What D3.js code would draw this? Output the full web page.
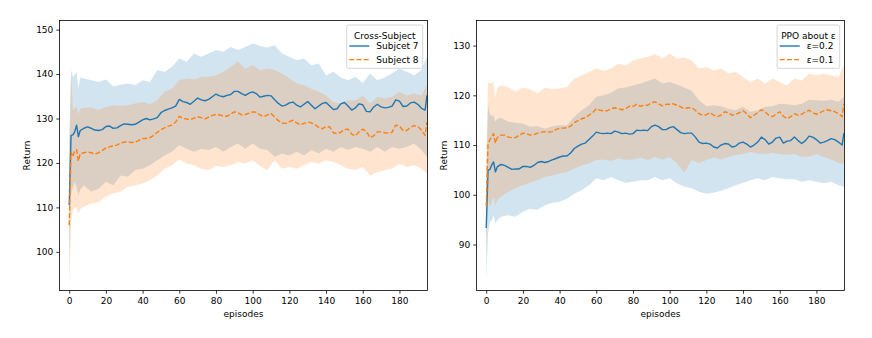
<!DOCTYPE html>
<html>
<head>
<meta charset="utf-8">
<script src="https://cdn.jsdelivr.net/npm/d3@7"></script>
<style>
  body { margin: 0; background: #fff; }
  svg text { font-family: "DejaVu Sans", sans-serif; }
</style>
</head>
<body>
<svg id="chart" width="872" height="338"></svg>
<script>
// episodes: lines are read every 2 episodes, bands every 4
var lineEp = [0, 1, 2, 3, 4, 5, 6].concat(d3.range(8, 195, 2)).concat([195]);
var bandEp = [0, 1, 2, 3, 4, 5, 6].concat(d3.range(8, 193, 4)).concat([195]);
var xTicks = [0, 20, 40, 60, 80, 100, 120, 140, 160, 180];

// ---- left panel: Cross-Subject
var subj7Mean = [110.5, 126.2, 126.3, 127, 128.5, 125.9, 127.3,
  127.8, 128.1, 127.8, 127.4, 127.3, 127.5, 128.2, 128.3, 127.8, 127.9, 128.4, 128.8, 128.7, 128.6, 128.7, 129.2, 129.7, 130, 129.7, 129.9, 130.2, 131.3, 131.8, 132.1, 132.4, 132.8, 134.3, 133.8, 133.6, 133.2, 133.9, 134.6, 134.2, 134, 134.3, 134.9, 135.5, 135.1, 134.9, 135.2, 135.4, 136.1, 136.1, 135.6, 135.2, 135.7, 136, 135.6, 134.8, 135, 135.2, 135.1, 134.2, 133.4, 132.8, 133, 133.5, 133.7, 133, 132.6, 133.2, 133.8, 133, 132.2, 132.8, 133.4, 133.6, 132.8, 132, 132.2, 133.3, 133.6, 132.8, 131.9, 132.4, 133.3, 133.1, 131.6, 131.5, 132.6, 133.2, 132.6, 132.4, 132.5, 132.8, 134.2, 133.9, 132.7, 132.8, 133.5, 133.7, 133.2, 132.3, 131.9,
  135.2];
var subj8Mean = [106, 122.5, 121.4, 122.8, 123, 120.4, 122.1,
  122.3, 122.5, 122.3, 122, 122.3, 122.8, 123.4, 123.6, 123.9, 124, 124.5, 124.7, 124.7, 124.6, 124.7, 125.1, 125.5, 125.5, 125.7, 126.2, 126.9, 127.5, 127.9, 128.3, 128.5, 129.2, 130.5, 130, 129.9, 129.7, 130.1, 130.4, 130.2, 129.9, 130.3, 130.7, 130.9, 130.8, 130.6, 130.5, 131, 131.5, 131.3, 130.8, 130.9, 131.2, 131.5, 131.4, 130.8, 130.4, 130.8, 131.1, 130.3, 129.5, 129, 128.9, 129.3, 129.6, 129, 128.6, 128.9, 129.2, 129, 128.6, 128, 127.7, 128.2, 128.1, 126.8, 126.6, 126.9, 127.5, 127.6, 126.5, 126.1, 127, 127.6, 127.1, 125.7, 126.1, 127, 127, 126.8, 126.7, 126.9, 128.5, 128.3, 127.3, 127.3, 128, 128.4, 128.2, 127.4, 126.2,
  129.2];
var subj7Lo = [96, 113.1, 114.5, 115.7, 114.5, 112.7, 114,
  115, 113.5, 114.2, 115.7, 115, 117.2, 116.9, 118.4, 118.7, 119.5, 120.6, 121.7, 122.5, 124, 123.2, 122.5, 123.2, 122.9, 123.6, 122.5, 123.6, 124.4, 123.2, 124.4, 123.2, 122.9, 121.4, 122.1, 121.7, 122.5, 121.7, 122.9, 122.1, 123.2, 122.5, 123.6, 122.9, 123.6, 123.2, 122.5, 123.6, 122.5, 123.6, 123.2, 123.6, 124.4, 122.9,
  121.4];
var subj7Hi = [125, 140.9, 139.4, 139.8, 140.5, 136.7, 139.2,
  139, 138.6, 138.2, 138.8, 137.2, 137.6, 137.9, 137.5, 138.6, 138.2, 140.9, 140.5, 141.6, 143.5, 142.7, 144.6, 143.9, 144.6, 145.4, 145, 146.1, 145.4, 146.1, 146.9, 146.3, 146, 146.5, 144.6, 143.9, 143.1, 143.5, 142, 142.4, 139.7, 140.5, 139.2, 138.6, 139.4, 138, 140.1, 138.6, 139.2, 140.2, 141.2, 140.5, 139.7, 140.9,
  143.9];
var subj8Lo = [91.5, 106.7, 109.4, 110, 110.1, 108.5, 109.6,
  110.2, 110.8, 111.2, 112.4, 113.1, 113.5, 114.6, 115, 115.4, 116.1, 117.2, 118.7, 119.5, 120.8, 119.9, 119.5, 118.7, 118.4, 119.3, 119.1, 119.5, 120.2, 119.9, 120.6, 119.3, 118.4, 120.6, 118.7, 119.1, 118.7, 119.5, 120.2, 119.9, 120.6, 120.2, 119.5, 118.7, 118.4, 119.1, 117.2, 117.9, 118.4, 118.7, 119.9, 119.1, 119.5, 118.7,
  117.6];
var subj8Hi = [121, 140, 131.9, 132.3, 132.6, 131, 132.2,
  132.4, 132.5, 131.9, 132.6, 133, 132.8, 133, 133.4, 133.7, 133.2, 134.1, 136, 136.7, 138.6, 139, 138.8, 139.4, 139.4, 139.7, 140.5, 141.6, 142.8, 141.2, 142, 140.9, 141.2, 140.9, 140.1, 139, 137.9, 137.5, 136.7, 136, 135.2, 133.7, 133.4, 134.1, 134.1, 135.2, 133.4, 134.9, 134.5, 134.9, 136, 135.2, 135.6, 135.2,
  137.5];
var leftYTicks = [100, 110, 120, 130, 140, 150];

// ---- right panel: PPO about epsilon
var eps02Mean = [93.3, 104.9, 105.1, 106, 106.6, 104.6, 105.6,
  106.1, 105.9, 105.5, 105.1, 105.2, 105.2, 105.7, 105.7, 105.5, 105.9, 106.5, 106.7, 106.5, 106.7, 107, 107.3, 107.6, 107.8, 107.8, 108.4, 109.3, 109.8, 110.2, 110.4, 111.1, 111.8, 112.6, 112.4, 112.3, 112.4, 112.3, 112.8, 112.6, 112.3, 112.4, 112.2, 112.3, 113, 112.9, 113, 112.9, 113.7, 114, 113.7, 113.1, 113.1, 113.5, 113.7, 113.1, 112.5, 112.3, 112.4, 112.4, 111.6, 110.6, 110.3, 110.4, 110.2, 109.6, 109.4, 110, 110.3, 110.2, 109.6, 109.8, 110.4, 110.6, 110.2, 109.6, 110, 110.6, 111.6, 111.1, 110.2, 110.6, 111.4, 111.6, 110.4, 110.8, 110.9, 111.6, 110.9, 110.3, 110.9, 111.8, 111.6, 111.1, 110.4, 110.6, 110.9, 111.3, 111.1, 110.6, 110,
  112.4];
var eps01Mean = [97.6, 110.3, 111.1, 111.6, 112.3, 110.4, 111.5,
  112, 112, 111.6, 111.5, 111.5, 112, 112.4, 112.3, 112, 112.1, 112.4, 112.6, 112.7, 112.6, 112.7, 113.1, 113.4, 113.4, 113.5, 113.8, 114.5, 114.9, 115.3, 115.5, 116, 116.5, 117.3, 117, 116.9, 116.9, 117.3, 117.5, 117.3, 117.1, 117.3, 117.8, 117.8, 118.2, 117.8, 118, 118, 118.5, 118.7, 118.3, 117.9, 118.2, 118.2, 118.3, 118, 117.7, 117.3, 117.5, 117.5, 117, 116.3, 116, 116.1, 116.5, 116, 115.7, 116, 116.7, 116.5, 116, 116.2, 116.5, 116.9, 116.3, 115.5, 116, 116.5, 117.1, 116.7, 116, 115.7, 116.2, 116.7, 115.8, 115.3, 115.7, 116.3, 116, 116.2, 116.7, 117, 116.5, 116.2, 116.5, 116.9, 117.1, 116.9, 116.7, 116.3, 115.7,
  118.3];
var eps02Lo = [83, 92.2, 94.6, 94.9, 95.9, 94.2, 94.9,
  95.6, 95.9, 95.6, 96.6, 97.2, 97, 97.9, 98.4, 98.6, 99.2, 100.2, 100.9, 101.9, 103.3, 102.9, 103.6, 102.9, 102.4, 102.6, 102.9, 102.9, 103.6, 102.9, 103.3, 102.3, 101.6, 101.3, 100.6, 100.2, 100.4, 100.8, 101.3, 101.9, 102.4, 102.9, 103.3, 102.9, 103.6, 103.3, 103.1, 103.1, 102.6, 102.9, 102.6, 102.3, 102.6, 101.9,
  101.6];
var eps02Hi = [104, 118, 116.3, 115.8, 116, 114.7, 115.3,
  115.5, 114.7, 114.5, 114.3, 113.7, 113.8, 113.3, 113.8, 114, 114, 115.7, 117, 118, 119.7, 120, 120.5, 121.4, 121.6, 122, 122.4, 122.9, 123.4, 122.4, 122.7, 122.2, 121.6, 120.9, 119, 117.8, 118, 117.8, 117.3, 117, 117.7, 116.7, 117, 117.7, 117.8, 118.3, 118.2, 118, 118.3, 119.1, 119, 118.9, 119.1, 118.7,
  119.7];
var eps01Lo = [88, 99.2, 97.6, 98.6, 99.6, 97.9, 98.9,
  99.6, 100.6, 101.3, 101.9, 102.4, 102.9, 103.6, 103.9, 104.3, 104.6, 105.3, 105.9, 106.3, 107, 107.1, 106.8, 107.3, 107, 107.1, 107.5, 107, 107.6, 107.1, 107.6, 106.3, 104.5, 107, 106.4, 107, 107.5, 107.1, 107.6, 108, 108.2, 108.6, 108.3, 108.2, 108.4, 108.2, 108, 108.2, 107.6, 107.7, 108.2, 107.6, 107.1, 106.4,
  106.3];
var eps01Hi = [107, 122.7, 122.4, 122.5, 122.7, 119.3, 121.6,
  122, 121.7, 120.7, 121.6, 121.2, 120.4, 121.6, 121.2, 121.4, 121.7, 123.4, 124, 124.7, 125.4, 124.9, 125.4, 126.4, 126, 127, 127.4, 127.7, 128.3, 127.4, 128.4, 127.4, 127.6, 127, 125.4, 125.7, 125, 125.4, 124.4, 124.7, 123.7, 122.7, 123.4, 122.4, 123.4, 122.7, 122, 123.4, 123, 124.4, 124, 124.4, 124, 123.7,
  126];
var rightYTicks = [90, 100, 110, 120, 130];

var BLUE = "#1f77b4", ORANGE = "#ff7f0e";

var svg = d3.select("#chart");

function drawPanel(p) {
  var x = d3.scaleLinear().domain([-5.3, 195.3]).range([p.left, p.right]);
  var y = d3.scaleLinear().domain(p.yDomain).range([290.5, 20.5]);

  var g = svg.append("g");
  var clipId = "clip" + p.left;
  g.append("clipPath").attr("id", clipId)
    .append("rect")
    .attr("x", p.left).attr("y", 20.5)
    .attr("width", p.right - p.left).attr("height", 270);

  var plot = g.append("g").attr("clip-path", "url(#" + clipId + ")");
  var bands = plot.append("g");
  var lines = plot.append("g");

  var area = d3.area()
    .x(function(d) { return x(d.e); })
    .y0(function(d) { return y(d.lo); })
    .y1(function(d) { return y(d.hi); });
  var line = d3.line()
    .x(function(d) { return x(d.e); })
    .y(function(d) { return y(d.v); });

  p.series.forEach(function(s) {
    var lineData = lineEp.map(function(e, i) { return {e: e, v: s.mean[i]}; })
      .filter(function(d) { return d.v != null; });
    var bandData = bandEp.map(function(e, i) { return {e: e, lo: s.lo[i], hi: s.hi[i]}; })
      .filter(function(d) { return d.lo != null && d.hi != null; });

    bands.append("path")
      .attr("d", area(bandData))
      .attr("fill", s.color)
      .attr("fill-opacity", 0.2)
      .attr("stroke", "none");

    lines.append("path")
      .attr("d", line(lineData))
      .attr("fill", "none")
      .attr("stroke", s.color)
      .attr("stroke-width", 1.4)
      .attr("stroke-linejoin", "round")
      .attr("stroke-dasharray", s.dashed ? "5,2.2" : null);
  });

  // axes
  var xAxis = d3.axisBottom(x).tickValues(xTicks).tickSize(3.2).tickPadding(3.6).tickSizeOuter(0);
  var yAxis = d3.axisLeft(y).tickValues(p.yTicks).tickSize(3.2).tickPadding(3).tickSizeOuter(0);

  var gx = g.append("g").attr("transform", "translate(0,290.5)").call(xAxis);
  var gy = g.append("g").attr("transform", "translate(" + p.left + ",0)").call(yAxis);
  [gx, gy].forEach(function(a) {
    a.select(".domain").remove();
    a.selectAll("line").attr("stroke", "#000").attr("stroke-width", 0.8);
    a.selectAll("text").attr("font-size", 9).attr("fill", "#000")
      .style("font-family", "DejaVu Sans, sans-serif");
  });

  // frame
  g.append("rect")
    .attr("x", p.left).attr("y", 20.5)
    .attr("width", p.right - p.left).attr("height", 270)
    .attr("fill", "none").attr("stroke", "#000").attr("stroke-width", 0.8);

  g.append("text")
    .attr("x", (p.left + p.right) / 2).attr("y", 317)
    .attr("text-anchor", "middle").attr("font-size", 9)
    .text("episodes");

  g.append("text")
    .attr("transform", "translate(" + (p.left - 30) + ",155.5) rotate(-90)")
    .attr("text-anchor", "middle").attr("font-size", 9)
    .text("Return");

  // legend
  var lx = p.right - 4.8 - p.legendW, ly = 25;
  var lg = g.append("g");
  lg.append("rect")
    .attr("x", lx).attr("y", ly)
    .attr("width", p.legendW).attr("height", 43.3)
    .attr("rx", 1.8)
    .attr("fill", "#fff").attr("fill-opacity", 0.8)
    .attr("stroke", "#cccccc").attr("stroke-width", 0.8);
  lg.append("text")
    .attr("x", lx + p.legendW / 2).attr("y", ly + 14.3)
    .attr("text-anchor", "middle").attr("font-size", 9)
    .text(p.legendTitle);
  p.series.forEach(function(s, i) {
    var ry = ly + 21 + i * 13.6;
    lg.append("line")
      .attr("x1", lx + 2.6).attr("x2", lx + 22.6)
      .attr("y1", ry).attr("y2", ry)
      .attr("stroke", s.color).attr("stroke-width", 1.4)
      .attr("stroke-dasharray", s.dashed ? "5,2.2" : null);
    lg.append("text")
      .attr("x", lx + 29.6).attr("y", ry + 3.3)
      .attr("font-size", 9)
      .text(s.name);
  });
}

drawPanel({
  left: 59.5, right: 427.5,
  yDomain: [91.3, 152.05], yTicks: leftYTicks,
  legendTitle: "Cross-Subject", legendW: 76,
  series: [
    {name: "Subjcet 7", color: BLUE, dashed: false, mean: subj7Mean, lo: subj7Lo, hi: subj7Hi},
    {name: "Subject 8", color: ORANGE, dashed: true, mean: subj8Mean, lo: subj8Lo, hi: subj8Hi}
  ]
});

drawPanel({
  left: 476.5, right: 844.5,
  yDomain: [80.75, 135.05], yTicks: rightYTicks,
  legendTitle: "PPO about \u03b5", legendW: 62.6,
  series: [
    {name: "\u03b5=0.2", color: BLUE, dashed: false, mean: eps02Mean, lo: eps02Lo, hi: eps02Hi},
    {name: "\u03b5=0.1", color: ORANGE, dashed: true, mean: eps01Mean, lo: eps01Lo, hi: eps01Hi}
  ]
});
</script>
</body>
</html>
